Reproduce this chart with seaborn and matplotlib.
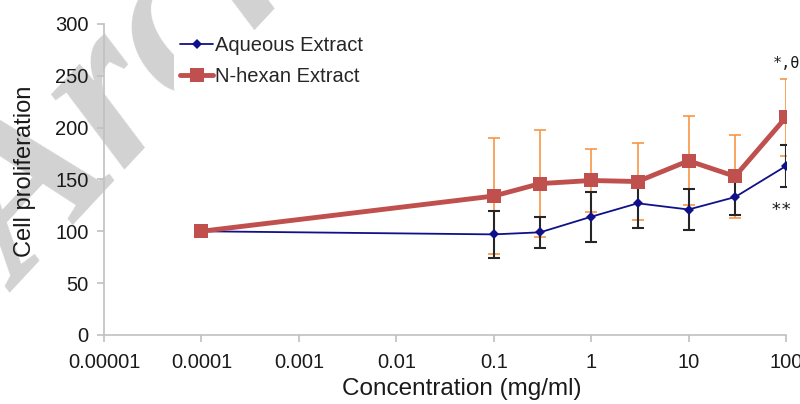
import numpy as np
import pandas as pd
import matplotlib
matplotlib.use("Agg")
import matplotlib.pyplot as plt
import seaborn as sns

# Concentrations (mg/ml) and mean cell proliferation with SD
conc = [0.0001, 0.1, 0.3, 1, 3, 10, 30, 100]
aqueous = [100, 97, 99, 114, 127, 121, 133, 163]
aqueous_sd = [0, 23, 15, 24, 24, 20, 17, 20]
hexan = [100, 134, 146, 149, 148, 168, 153, 210]
hexan_sd = [0, 56, 52, 30, 37, 43, 40, 37]

xticks = [0.00001, 0.0001, 0.001, 0.01, 0.1, 1, 10, 100]
xticklabels = ["0.00001", "0.0001", "0.001", "0.01", "0.1", "1", "10", "100"]
yticks = [0, 50, 100, 150, 200, 250, 300]

df = pd.DataFrame({
    "conc": conc * 2,
    "value": aqueous + hexan,
    "series": ["Aqueous Extract"] * len(conc) + ["N-hexan Extract"] * len(conc),
})

sns.set_style("white")
plt.rcParams["font.family"] = ["Liberation Sans", "DejaVu Sans"]

fig = plt.figure(figsize=(8, 4.04), dpi=100)
ax = fig.add_axes([0.13, 0.171, 0.8525, 0.7696])
ax.patch.set_alpha(0)

blue = "#10108a"
red = "#c0504d"
orange = "#f79646"

# watermark sits behind the axes
fig.text(0.028, 0.275, "Archive of SID", fontsize=165, family=["Liberation Serif", "DejaVu Serif"],
         style="italic", weight="bold", color="#d2d2d2", rotation=47,
         rotation_mode="anchor", ha="left", va="baseline", zorder=-5)

# error bars first so lines sit on top
ax.errorbar(conc[1:], hexan[1:], yerr=hexan_sd[1:], fmt="none", ecolor=orange,
            elinewidth=1.2, capsize=4, capthick=1.2, zorder=1)
ax.errorbar(conc[1:], aqueous[1:], yerr=aqueous_sd[1:], fmt="none", ecolor="#262626",
            elinewidth=1.5, capsize=4, capthick=1.5, zorder=2)

sns.lineplot(data=df[df.series == "Aqueous Extract"], x="conc", y="value", ax=ax,
             color=blue, lw=1.3, marker="D", markersize=5.5, markeredgewidth=0,
             label="Aqueous Extract", zorder=3)
sns.lineplot(data=df[df.series == "N-hexan Extract"], x="conc", y="value", ax=ax,
             color=red, lw=3.5, marker="s", markersize=9.5, markeredgewidth=0,
             label="N-hexan Extract", zorder=4)

ax.set_xscale("log")
ax.set_xlim(0.00001, 100)
ax.set_ylim(0, 300)
ax.set_xticks(xticks)
ax.set_xticklabels(xticklabels)
ax.minorticks_off()
ax.set_yticks(yticks)

for s in ["top", "right"]:
    ax.spines[s].set_visible(False)
for s in ["left", "bottom"]:
    ax.spines[s].set_color("#c0c0c0")
    ax.spines[s].set_linewidth(1.2)
ax.tick_params(axis="both", which="major", length=5, width=1.2, color="#c0c0c0",
               labelsize=14.5, labelcolor="#1a1a1a", pad=6, direction="out",
               bottom=True, left=True)
ax.tick_params(axis="x", pad=8)

ax.set_xlabel("Concentration (mg/ml)", fontsize=17.5, color="#1a1a1a")
ax.xaxis.set_label_coords(0.525, -0.14)
ax.set_ylabel("Cell proliferation", fontsize=17, color="#1a1a1a")
ax.yaxis.set_label_coords(-0.1, 0.527)

leg = ax.legend(loc="upper left", bbox_to_anchor=(0.218, 0.925), bbox_transform=fig.transFigure,
                frameon=True, facecolor="white", edgecolor="none", framealpha=1,
                fontsize=14.5, handlelength=1.6, handletextpad=0.1,
                labelspacing=0.6, borderaxespad=0, borderpad=0.3)

# significance marks
ax.annotate("*,θ", xy=(100, 247), xytext=(0, 11), textcoords="offset points",
            ha="center", va="center", fontsize=11, family=["DejaVu Sans Mono"],
            color="#1a1a1a", annotation_clip=False)
ax.annotate("**", xy=(100, 143), xytext=(-3, -17), textcoords="offset points",
            ha="center", va="center", fontsize=13, family=["DejaVu Sans Mono"],
            color="#1a1a1a", annotation_clip=False)

fig.savefig("out.png", dpi=100)
